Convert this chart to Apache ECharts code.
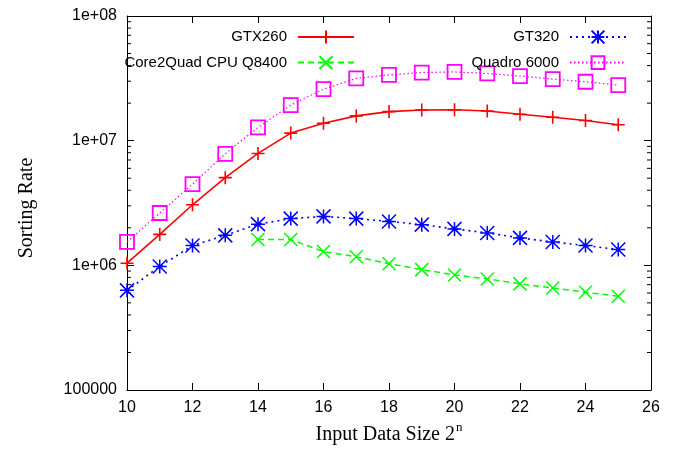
<!DOCTYPE html>
<html>
<head>
<meta charset="utf-8">
<script src="https://cdn.jsdelivr.net/npm/echarts@6/dist/echarts.min.js"></script>
<style>
html,body{margin:0;padding:0;background:#fff;}
#chart{width:674px;height:455px;}
</style>
</head>
<body>
<div id="chart"></div>
<script>
// ---- data ----
const sizes = [10, 11, 12, 13, 14, 15, 16, 17, 18, 19, 20, 21, 22, 23, 24, 25];
const gtx260 = [1.04e6, 1.77e6, 3.06e6, 5.05e6, 7.9e6, 1.15e7, 1.38e7, 1.58e7, 1.71e7, 1.76e7, 1.77e7, 1.73e7, 1.63e7, 1.54e7, 1.45e7, 1.34e7];
const gt320 = [6.3e5, 9.8e5, 1.44e6, 1.74e6, 2.14e6, 2.37e6, 2.47e6, 2.37e6, 2.25e6, 2.12e6, 1.96e6, 1.82e6, 1.66e6, 1.54e6, 1.44e6, 1.34e6];
const core2quad = [null, null, null, null, 1.61e6, 1.61e6, 1.29e6, 1.17e6, 1.03e6, 9.24e5, 8.37e5, 7.78e5, 7.1e5, 6.59e5, 6.08e5, 5.65e5];
const quadro6000 = [1.54e6, 2.63e6, 4.48e6, 7.83e6, 1.28e7, 1.93e7, 2.59e7, 3.16e7, 3.37e7, 3.52e7, 3.56e7, 3.46e7, 3.30e7, 3.12e7, 2.97e7, 2.79e7];
const seriesNames = ['GTX260', 'GT320', 'Core2Quad CPU Q8400', 'Quadro 6000'];
const yTickValues = [1e5, 1e6, 1e7, 1e8];
const yTickLabels = ['100000', '1e+06', '1e+07', '1e+08'];
const yMinorTicks = [2e5, 3e5, 4e5, 5e5, 6e5, 7e5, 8e5, 9e5,
                     2e6, 3e6, 4e6, 5e6, 6e6, 7e6, 8e6, 9e6,
                     2e7, 3e7, 4e7, 5e7, 6e7, 7e7, 8e7, 9e7];

const pairs = (ys) => sizes.map((x, i) => [x, ys[i]]).filter(p => p[1] !== null);

const SYM_PLUS = 'path://M0,5L10,5M5,0L5,10';
const SYM_CROSS = 'path://M0,0L10,10M10,0L0,10';
const SYM_STAR = 'path://M0,5L10,5M5,0L5,10M0,0L10,10M10,0L0,10';
const SYM_SQUARE = 'path://M0,0L10,0L10,10L0,10Z';

const labelFont = 'Liberation Sans';
const titleFont = 'Liberation Serif';

function lineSeries(name, data, color, dash, width, symbol, size, symW) {
  return {
    name: name, type: 'line', data: pairs(data),
    symbol: symbol, symbolSize: size,
    lineStyle: { color: color, width: width, type: dash },
    itemStyle: { color: 'transparent', borderColor: color, borderWidth: symW },
    emphasis: { disabled: true },
    animation: false
  };
}

const chart = echarts.init(document.getElementById('chart'), null, { renderer: 'canvas' });

const axisCommonX = {
  type: 'value', min: 10, max: 26, interval: 2,
  axisLine: { show: true, lineStyle: { color: '#000', width: 1 } },
  axisTick: { show: true, inside: true, length: 7, lineStyle: { color: '#000', width: 1 } },
  splitLine: { show: false }
};
const axisCommonY = {
  type: 'log', logBase: 10, min: 1e5, max: 1e8,
  axisLine: { show: true, lineStyle: { color: '#000', width: 1 } },
  axisTick: { show: true, inside: true, length: 7, lineStyle: { color: '#000', width: 1 } },
  splitLine: { show: false }
};

const legendCommon = {
  orient: 'vertical', align: 'right', padding: 0,
  itemWidth: 56, itemHeight: 16, itemGap: 9.6,
  selectedMode: false,
  textStyle: { fontFamily: labelFont, fontSize: 15, color: '#000', lineHeight: 16, padding: [0, 6, 0, 0] }
};

chart.setOption({
  backgroundColor: '#fff',
  animation: false,
  grid: { left: 127, right: 23, top: 16, bottom: 65, containLabel: false },
  legend: [
    Object.assign({}, legendCommon, { data: [seriesNames[0], seriesNames[2]], right: 319, top: 29 }),
    Object.assign({}, legendCommon, { data: [seriesNames[1], seriesNames[3]], right: 47, top: 29 })
  ],
  xAxis: [
    Object.assign({}, axisCommonX, {
      position: 'bottom',
      axisLabel: { show: true, margin: 10, fontFamily: labelFont, fontSize: 16, color: '#000' },
      name: '{a|Input Data Size 2}{s|n}', nameLocation: 'middle', nameGap: 34,
      nameTextStyle: {
        rich: {
          a: { fontFamily: titleFont, fontSize: 20, color: '#000', lineHeight: 22 },
          s: { fontFamily: titleFont, fontSize: 13, color: '#000', lineHeight: 13, padding: [0, 0, 14, 1] }
        }
      }
    }),
    Object.assign({}, axisCommonX, { position: 'top', axisLabel: { show: false } })
  ],
  yAxis: [
    Object.assign({}, axisCommonY, {
      position: 'left',
      axisLabel: {
        show: true, margin: 10, fontFamily: labelFont, fontSize: 16, color: '#000',
        formatter: function (v) {
          for (let i = 0; i < yTickValues.length; i++) {
            if (Math.abs(Math.log10(v) - Math.log10(yTickValues[i])) < 1e-6) return yTickLabels[i];
          }
          return '';
        }
      },
      name: 'Sorting Rate', nameLocation: 'middle', nameGap: 90, nameRotate: 90,
      nameTextStyle: { fontFamily: titleFont, fontSize: 20, color: '#000', padding: [0, 10, 0, 0] }
    }),
    Object.assign({}, axisCommonY, { position: 'right', axisLabel: { show: false } })
  ],
  series: [
    lineSeries(seriesNames[0], gtx260, '#ff0000', 'solid', 1.6, SYM_PLUS, 13, 1.6),
    lineSeries(seriesNames[2], core2quad, '#00ff00', [6, 4], 1.5, SYM_CROSS, 13, 1.5),
    lineSeries(seriesNames[1], gt320, '#0000ff', [2, 4], 1.6, SYM_STAR, 14, 1.5),
    lineSeries(seriesNames[3], quadro6000, '#ff00ff', [1.5, 2.5], 1.2, SYM_SQUARE, 14, 1.8),
    {
      type: 'custom', name: 'minorTicks', silent: true, clip: false, animation: false,
      data: yMinorTicks.map(v => [10, v]),
      renderItem: function (params, api) {
        const y = api.coord([api.value(0), api.value(1)])[1];
        const cs = params.coordSys;
        const l = cs.x, r = cs.x + cs.width;
        return {
          type: 'group',
          children: [
            { type: 'line', shape: { x1: l, y1: y, x2: l + 4, y2: y }, style: { stroke: '#000', lineWidth: 1 } },
            { type: 'line', shape: { x1: r - 4, y1: y, x2: r, y2: y }, style: { stroke: '#000', lineWidth: 1 } }
          ]
        };
      }
    }
  ]
});
</script>
</body>
</html>
